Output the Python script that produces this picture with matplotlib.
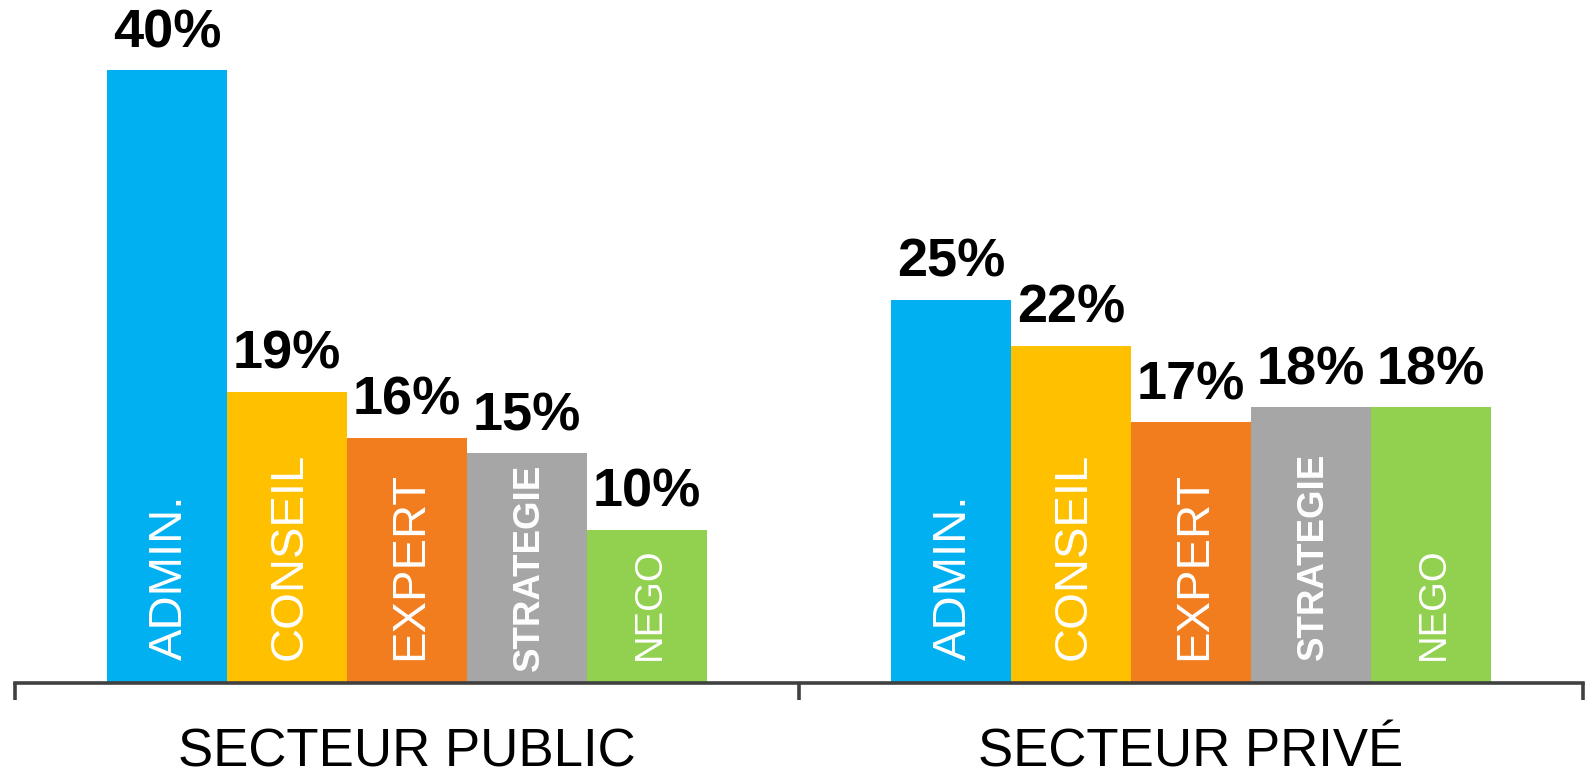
import numpy as np
import matplotlib.pyplot as plt

# survey shares per sector, in percent
groups = ["SECTEUR PUBLIC", "SECTEUR PRIVÉ"]
categories = ["ADMIN.", "CONSEIL", "EXPERT", "STRATEGIE", "NEGO"]
public = [40, 19, 16, 15, 10]
prive = [25, 22, 17, 18, 18]

colors = ["#00B0F0", "#FFC000", "#F27D1F", "#A6A6A6", "#92D050"]
cat_style = {
    "ADMIN.": dict(fontsize=34, fontweight="normal"),
    "CONSEIL": dict(fontsize=34, fontweight="normal"),
    "EXPERT": dict(fontsize=34, fontweight="normal"),
    "STRATEGIE": dict(fontsize=26.5, fontweight="bold"),
    "NEGO": dict(fontsize=27.5, fontweight="normal"),
}

plt.rcParams["font.family"] = ["Liberation Sans", "DejaVu Sans"]

W, H = 1585, 773
fig = plt.figure(figsize=(W / 100, H / 100), dpi=100)
# axes: x from group edge to group edge, baseline at y=683 px from the top
ax = fig.add_axes([15 / W, (H - 683) / H, (1583 - 15) / W, 683 / H])

width = 120 / 784
x = np.arange(len(groups))
data = [public, prive]
for g, vals in enumerate(data):
    for i, (cat, v) in enumerate(zip(categories, vals)):
        xc = x[g] + (i - 2) * width
        ax.bar(xc, v, width=width, color=colors[i], linewidth=0, zorder=1)
        # value above the bar
        ax.annotate(f"{v}%", xy=(xc, v), xytext=(0, 16.5), textcoords="offset points",
                    ha="center", va="baseline", fontsize=39, fontweight="bold",
                    color="black", zorder=4)
        # category name inside the bar (public STRATEGIE sits a bit lower)
        lift = 8.5 if (g == 0 and cat == "STRATEGIE") else 16.5
        ax.annotate(cat, xy=(xc, 0), xytext=(2, lift), textcoords="offset points",
                    ha="center", va="bottom", rotation=90, color="white",
                    zorder=2, **cat_style[cat])

for g, name in enumerate(groups):
    ax.annotate(name, xy=(x[g], 0), xycoords=("data", "axes fraction"),
                xytext=(0, -60), textcoords="offset points",
                ha="center", va="baseline", fontsize=38, color="black")

ax.set_xlim(-0.5, len(groups) - 0.5)
ax.set_ylim(0, 40 * 683 / 613)

for side in ["top", "right", "left"]:
    ax.spines[side].set_visible(False)
ax.spines["bottom"].set_color("#404040")
ax.spines["bottom"].set_linewidth(2.6)
ax.spines["bottom"].set_zorder(3)
ax.set_yticks([])
ax.set_xticks(np.arange(len(groups) + 1) - 0.5)
ax.set_xticklabels([])
ax.tick_params(axis="x", direction="out", length=12, width=2.6, color="#404040")

fig.savefig("out.png", dpi=100)
